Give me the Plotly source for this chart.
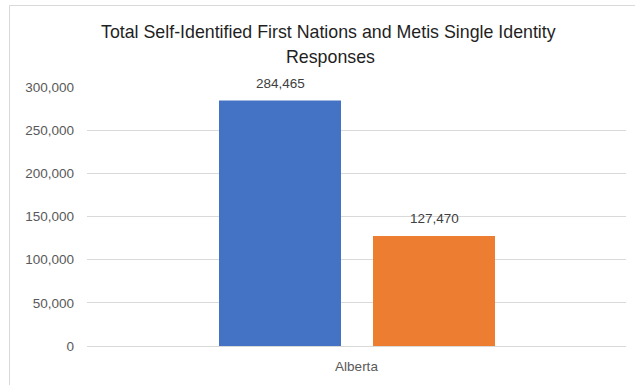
import plotly.graph_objects as go

categories = ["Alberta"]
series_names = ["First Nations", "Metis"]
first_nations = [284465]
metis = [127470]
colors = ["#4472C4", "#ED7D31"]
y_ticks = [0, 50000, 100000, 150000, 200000, 250000, 300000]
title_lines = ["Total Self-Identified First Nations and Metis Single Identity", "Responses"]

W, H = 635, 385
L, R, T, B = 87, 9, 87, 39
plot_w = W - L - R
plot_h = H - T - B

fig = go.Figure()
bar_w = 122 / plot_w
offsets = [(219 - 356.5) / plot_w, (373 - 356.5) / plot_w]
for name, vals, col, off in zip(series_names, [first_nations, metis], colors, offsets):
    fig.add_trace(go.Bar(x=categories, y=vals, name=name, marker_color=col,
                         marker_line_width=0, width=bar_w, offset=off,
                         hoverinfo="skip"))
    for c, v in zip(categories, vals):
        fig.add_annotation(x=c, y=v, xref="x", yref="y", text=f"{v:,}",
                           showarrow=False, xshift=(off + bar_w / 2) * plot_w,
                           yshift=17, yanchor="middle",
                           font=dict(family="Liberation Sans", size=13.5, color="#404040"))

title_font = dict(family="Liberation Sans", size=17.8, color="#1f1f1f")
fig.add_annotation(x=(328 - L) / plot_w, y=(H - B - 32) / plot_h, xref="paper", yref="paper",
                   text=title_lines[0], showarrow=False, yanchor="middle", xanchor="center",
                   font=title_font)
fig.add_annotation(x=(330 - L) / plot_w, y=(H - B - 57) / plot_h, xref="paper", yref="paper",
                   text=title_lines[1], showarrow=False, yanchor="middle", xanchor="center",
                   font=title_font)

fig.add_shape(type="rect", xref="paper", yref="paper",
              x0=(9.5 - L) / plot_w, x1=(645 - L) / plot_w,
              y0=(H - B - 395) / plot_h, y1=(H - B - 5.5) / plot_h,
              line=dict(color="#d9d9d9", width=1), layer="below")

fig.update_layout(
    width=W, height=H,
    margin=dict(l=L, r=R, t=T, b=B),
    paper_bgcolor="white", plot_bgcolor="white",
    showlegend=False,
    barmode="group",
    xaxis=dict(showgrid=False, showline=False, zeroline=False, ticks="",
               ticklabelstandoff=10,
               tickfont=dict(family="Liberation Sans", size=13.5, color="#595959")),
    yaxis=dict(range=[0, 300000], tickvals=y_ticks, tickformat=",",
               showgrid=True, gridcolor="#d9d9d9", gridwidth=1,
               zeroline=True, zerolinecolor="#d9d9d9", zerolinewidth=1,
               showline=False, ticks="", ticklabelstandoff=12,
               tickfont=dict(family="Liberation Sans", size=13.5, color="#595959")),
)

fig.write_html("out.html")
